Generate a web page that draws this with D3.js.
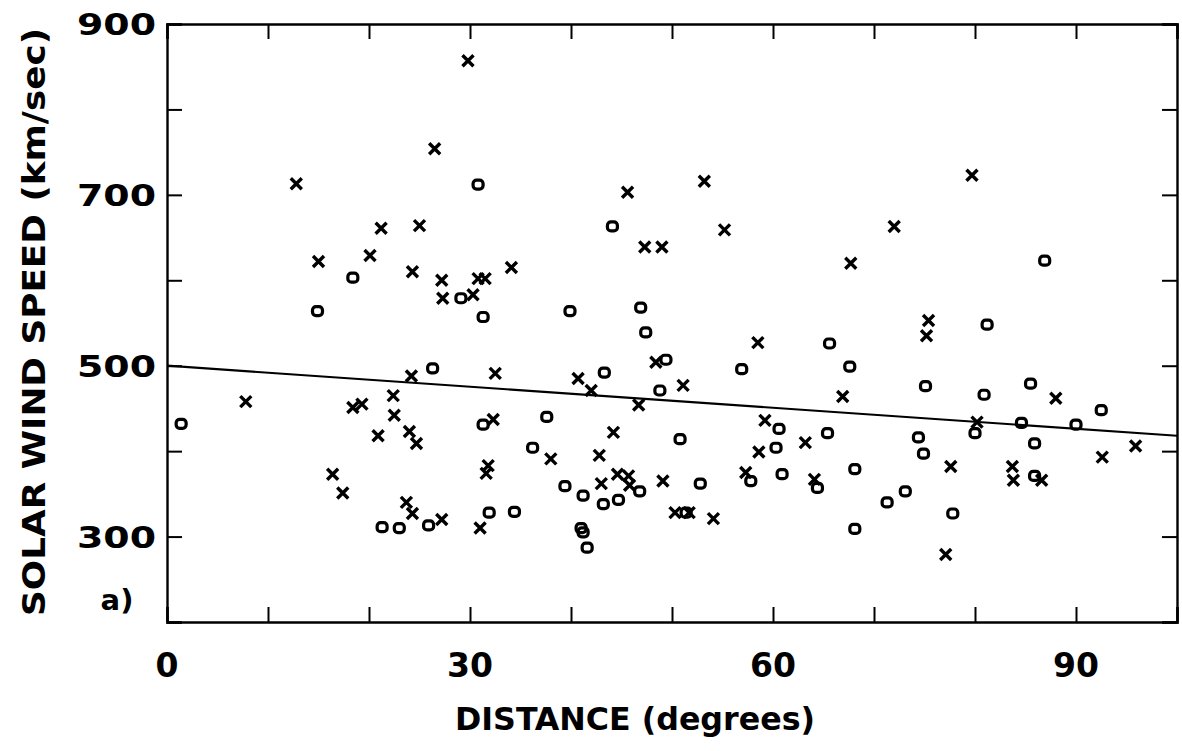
<!DOCTYPE html>
<html>
<head>
<meta charset="utf-8">
<script src="https://cdn.jsdelivr.net/npm/d3@7"></script>
<style>
  body { margin: 0; background: #fff; }
  svg { display: block; }
</style>
</head>
<body>
<script>
// crosses (x) : [distance deg, speed km/s]
var crosses = [
  [7.8,458],[12.8,713],[15.0,622],[16.4,373],[17.4,351],[18.4,451],[19.3,455],[20.1,629],
  [20.9,418],[21.2,661],[22.4,465],[22.5,442],[23.7,340],[24.0,423],[24.2,488],[24.3,610],
  [24.3,327],[24.7,409],[25.0,664],[26.5,754],[27.2,600],[27.3,579],[27.2,320],[29.8,857],
  [30.3,583],[30.8,602],[31.5,602],[31.0,310],[31.6,374],[31.8,383],[32.3,437],[32.5,491],
  [34.1,615],[38.0,391],[40.7,485],[42.0,471],[42.8,395],[43.0,362],[44.2,422],[44.6,373],
  [45.6,703],[45.7,371],[45.8,360],[46.7,454],[47.3,639],[48.4,504],[49.0,639],[49.1,365],
  [50.3,328],[51.1,477],[51.7,328],[53.2,716],[54.1,321],[55.2,659],[57.3,375],[58.5,527],
  [58.6,399],[59.2,436],[63.2,410],[64.1,367],[66.9,464],[67.7,620],[72.0,663],[75.2,535],
  [75.4,553],[77.1,279],[77.6,382],[79.7,723],[80.2,434],[83.7,382],[83.8,366],[86.6,366],
  [88.0,462],[92.6,393],[95.9,406]
];

// circles (o)
var circles = [
  [1.4,432],[14.9,564],[18.4,603],[21.3,311],[23.0,310],[25.9,313],[26.3,497],[29.1,579],
  [30.8,712],[31.3,557],[31.3,431],[31.9,328],[34.4,329],[36.2,404],[37.6,440],[39.4,359],
  [39.9,564],[41.0,310],[41.2,305],[41.2,348],[41.6,287],[43.2,338],[43.3,492],[44.1,663],
  [44.7,343],[46.8,353],[46.9,568],[47.4,539],[48.8,471],[49.4,507],[50.8,414],[51.4,328],
  [52.8,362],[56.9,496],[57.8,365],[60.3,404],[60.6,426],[60.9,373],[64.4,357],[65.4,421],
  [65.6,526],[67.6,499],[68.1,379],[68.1,309],[71.3,340],[73.1,353],[74.4,416],[74.9,397],
  [75.1,476],[77.8,327],[80.0,421],[80.9,466],[81.2,548],[84.6,433],[85.5,479],[85.9,409],
  [85.9,371],[86.9,623],[90.0,431],[92.5,448]
];

// fitted line endpoints
var fitLine = [[0,500],[100,418]];

var xTicks = d3.range(0, 101, 10);
var xLabels = [0, 30, 60, 90];
var yTicks = d3.range(200, 901, 100);
var yLabels = [300, 500, 700, 900];

var W = 1182, H = 751;
var margin = {left: 167, right: 5, top: 24, bottom: 129};
var width = W - margin.left - margin.right;
var height = H - margin.top - margin.bottom;

var x = d3.scaleLinear().domain([0, 100]).range([0, width]);
var y = d3.scaleLinear().domain([200, 900]).range([height, 0]);

var svg = d3.select("body").append("svg")
  .attr("width", W).attr("height", H);

var g = svg.append("g")
  .attr("transform", "translate(" + margin.left + "," + margin.top + ")");

var tickLen = 15;

// frame axes, ticks pointing inward
g.append("g").attr("transform", "translate(0," + height + ")")
  .call(d3.axisTop(x).tickValues(xTicks).tickSize(tickLen).tickFormat(""));
g.append("g")
  .call(d3.axisBottom(x).tickValues(xTicks).tickSize(tickLen).tickFormat(""));
g.append("g")
  .call(d3.axisRight(y).tickValues(yTicks).tickSize(tickLen).tickFormat(""));
g.append("g").attr("transform", "translate(" + width + ",0)")
  .call(d3.axisLeft(y).tickValues(yTicks).tickSize(tickLen).tickFormat(""));

g.selectAll(".domain").attr("stroke", "#000").attr("stroke-width", 2.4);
g.selectAll(".tick line").attr("stroke", "#000").attr("stroke-width", 2);

// tick labels
g.selectAll(".ylab").data(yLabels).enter().append("text")
  .attr("class", "ylab")
  .attr("x", -11)
  .attr("y", function(d) { return y(d); })
  .attr("dy", "0.36em")
  .attr("text-anchor", "end")
  .attr("textLength", 79)
  .attr("lengthAdjust", "spacingAndGlyphs")
  .style("font-family", "DejaVu Sans")
  .style("font-weight", "bold")
  .style("font-size", "31px")
  .text(function(d) { return d; });

g.selectAll(".xlab").data(xLabels).enter().append("text")
  .attr("class", "xlab")
  .attr("x", function(d) { return x(d); })
  .attr("y", height + 43)
  .attr("dy", "0.36em")
  .attr("text-anchor", "middle")
  .attr("textLength", function(d) { return String(d).length * 23; })
  .attr("lengthAdjust", "spacingAndGlyphs")
  .style("font-family", "DejaVu Sans")
  .style("font-weight", "bold")
  .style("font-size", "33px")
  .text(function(d) { return d; });

// axis titles
g.append("text")
  .attr("x", width / 2 - 37)
  .attr("y", height + 96)
  .attr("dy", "0.36em")
  .attr("text-anchor", "middle")
  .attr("textLength", 360)
  .attr("lengthAdjust", "spacingAndGlyphs")
  .style("font-family", "DejaVu Sans Condensed, DejaVu Sans")
  .style("font-weight", "bold")
  .style("font-size", "32px")
  .text("DISTANCE (degrees)");

svg.append("text")
  .attr("transform", "translate(33," + (margin.top + 298) + ") rotate(-90)")
  .attr("dy", "0.36em")
  .attr("text-anchor", "middle")
  .attr("textLength", 588)
  .attr("lengthAdjust", "spacingAndGlyphs")
  .style("font-family", "DejaVu Sans")
  .style("font-weight", "bold")
  .style("font-size", "32px")
  .text("SOLAR WIND SPEED (km/sec)");

svg.append("text")
  .attr("x", 117).attr("y", 600)
  .attr("dy", "0.36em")
  .attr("text-anchor", "middle")
  .style("font-family", "DejaVu Sans")
  .style("font-weight", "bold")
  .style("font-size", "29px")
  .text("a)");

// regression line
g.append("path")
  .datum(fitLine)
  .attr("fill", "none")
  .attr("stroke", "#000")
  .attr("stroke-width", 2.2)
  .attr("d", d3.line().x(function(d) { return x(d[0]); }).y(function(d) { return y(d[1]); }));

// markers
var s = 5.5;
g.selectAll(".cross").data(crosses).enter().append("path")
  .attr("class", "cross")
  .attr("transform", function(d) { return "translate(" + x(d[0]) + "," + y(d[1]) + ")"; })
  .attr("d", "M" + (-s) + "," + (-s) + "L" + s + "," + s + "M" + (-s) + "," + s + "L" + s + "," + (-s))
  .attr("stroke", "#000")
  .attr("stroke-width", 3.4)
  .attr("fill", "none");

g.selectAll(".circ").data(circles).enter().append("rect")
  .attr("class", "circ")
  .attr("x", function(d) { return x(d[0]) - 5; })
  .attr("y", function(d) { return y(d[1]) - 4.5; })
  .attr("width", 10).attr("height", 9)
  .attr("rx", 3.5)
  .attr("fill", "none")
  .attr("stroke", "#000")
  .attr("stroke-width", 3.2);
</script>
</body>
</html>
